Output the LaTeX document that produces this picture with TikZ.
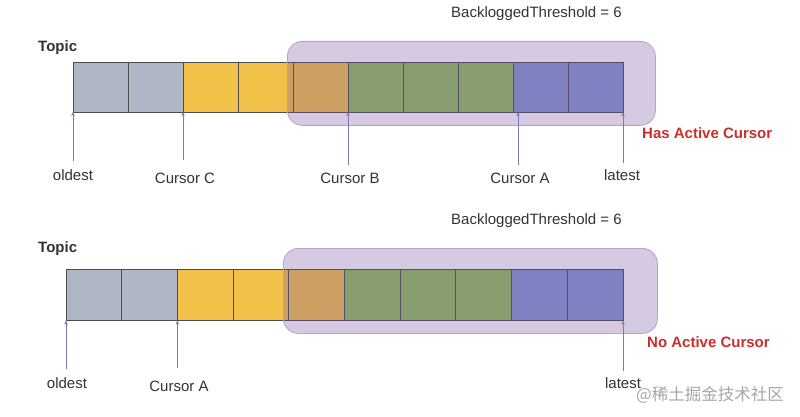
\documentclass[tikz,border=0pt]{standalone}
\usepackage{fontspec}
\setmainfont{Liberation Sans}
\newfontfamily\cjkfont{Noto Sans CJK SC}
\usetikzlibrary{arrows.meta,positioning,calc}
\definecolor{cgrey}{HTML}{AFB7C7}
\definecolor{cyellow}{HTML}{F1C14A}
\definecolor{cgreen}{HTML}{8FBF5A}
\definecolor{cblue}{HTML}{8496D2}
\definecolor{cover}{HTML}{77519F}
\definecolor{cborder}{HTML}{B4A4CC}
\definecolor{ctext}{HTML}{333333}
\definecolor{cred}{HTML}{C8302C}
\definecolor{cptr}{HTML}{7A78B8}
\tikzset{
  cell/.style={draw=black!70, line width=0.9pt, minimum width=55pt, minimum height=50pt, inner sep=0pt, outer sep=0pt, anchor=north west},
  cellb/.style={cell, minimum width=55.7pt, minimum height=51.5pt},
  zone/.style={draw=cborder, line width=0.8pt, fill=cover, fill opacity=0.3, rounded corners=15pt},
  lbl/.style={text=ctext, font=\fontsize{15}{17}\selectfont, inner sep=1pt},
  ttl/.style={text=ctext, font=\bfseries\fontsize{15}{17}\selectfont, inner sep=0pt},
  flag/.style={text=cred, font=\bfseries\fontsize{15}{17}\selectfont, inner sep=0pt},
  ptr/.style={draw=cptr, line width=0.7pt, -{Stealth[length=4pt,width=3.5pt]}},
}
\begin{document}
\begin{tikzpicture}[x=1pt,y=-1pt]
\useasboundingbox[fill=white] (0,0) rectangle (800,417);
% ---------- top diagram ----------
\node[ttl, anchor=west] (topicA) at (38,48) {Topic};
\node[lbl, anchor=west] (thrA) at (450,14) {BackloggedThreshold = 6};
\foreach \i/\c in {1/cgrey,2/cgrey,3/cyellow,4/cyellow,5/cyellow,6/cgreen,7/cgreen,8/cgreen,9/cblue,10/cblue}{
  \node[cell, fill=\c] (a\i) at ({73+55*(\i-1)},62) {};
}
\node[zone, minimum width=368pt, minimum height=84pt, anchor=north west, inner sep=0pt] (zoneA) at (287,41) {};
\node[flag, anchor=west] (hasA) at (642,133) {Has Active Cursor};
\node[lbl] (oldA) at (73,175) {oldest};
\node[lbl] (curC) at (185,178) {Cursor C};
\node[lbl] (curB) at (350,178) {Cursor B};
\node[lbl] (curA) at (520,178) {Cursor A};
\node[lbl] (latA) at (622,175) {latest};
\coordinate (pA) at (518,112);
\draw[ptr] (oldA.north -| a1.south west) ++(0,-7) -- (a1.south west);
\draw[ptr] (curC.north -| a3.south west) ++(0,-11) -- (a3.south west);
\draw[ptr] (curB.north -| a6.south west) ++(0,-6) -- (a6.south west);
\draw[ptr] (curA.north -| pA) ++(0,-6) -- (pA);
\draw[ptr] (latA.north -| a10.south east) ++(0,-5) -- (a10.south east);
% ---------- bottom diagram ----------
\node[ttl, anchor=west] (topicB) at (38,249) {Topic};
\node[lbl, anchor=west] (thrB) at (450,221) {BackloggedThreshold = 6};
\foreach \i/\c in {1/cgrey,2/cgrey,3/cyellow,4/cyellow,5/cyellow,6/cgreen,7/cgreen,8/cgreen,9/cblue,10/cblue}{
  \node[cellb, fill=\c] (b\i) at ({66+55.7*(\i-1)},269) {};
}
\node[zone, minimum width=374pt, minimum height=85pt, anchor=north west, inner sep=0pt] (zoneB) at (283,248) {};
\node[flag, anchor=west] (noB) at (647,342) {No Active Cursor};
\node[lbl] (oldB) at (67,383) {oldest};
\node[lbl] (curAB) at (179,386) {Cursor A};
\node[lbl] (latB) at (623,383) {latest};
\draw[ptr] (oldB.north -| b1.south west) ++(0,-7) -- (b1.south west);
\draw[ptr] (curAB.north -| b3.south west) ++(0,-11) -- (b3.south west);
\draw[ptr] (latB.north -| b10.south east) ++(0,-5) -- (b10.south east);
% watermark
\node[text=black!35, font=\cjkfont\fontsize{16.5}{18}\selectfont, anchor=west, inner sep=0pt] (wm) at (636,395) {@稀土掘金技术社区};
\end{tikzpicture}
\end{document}
